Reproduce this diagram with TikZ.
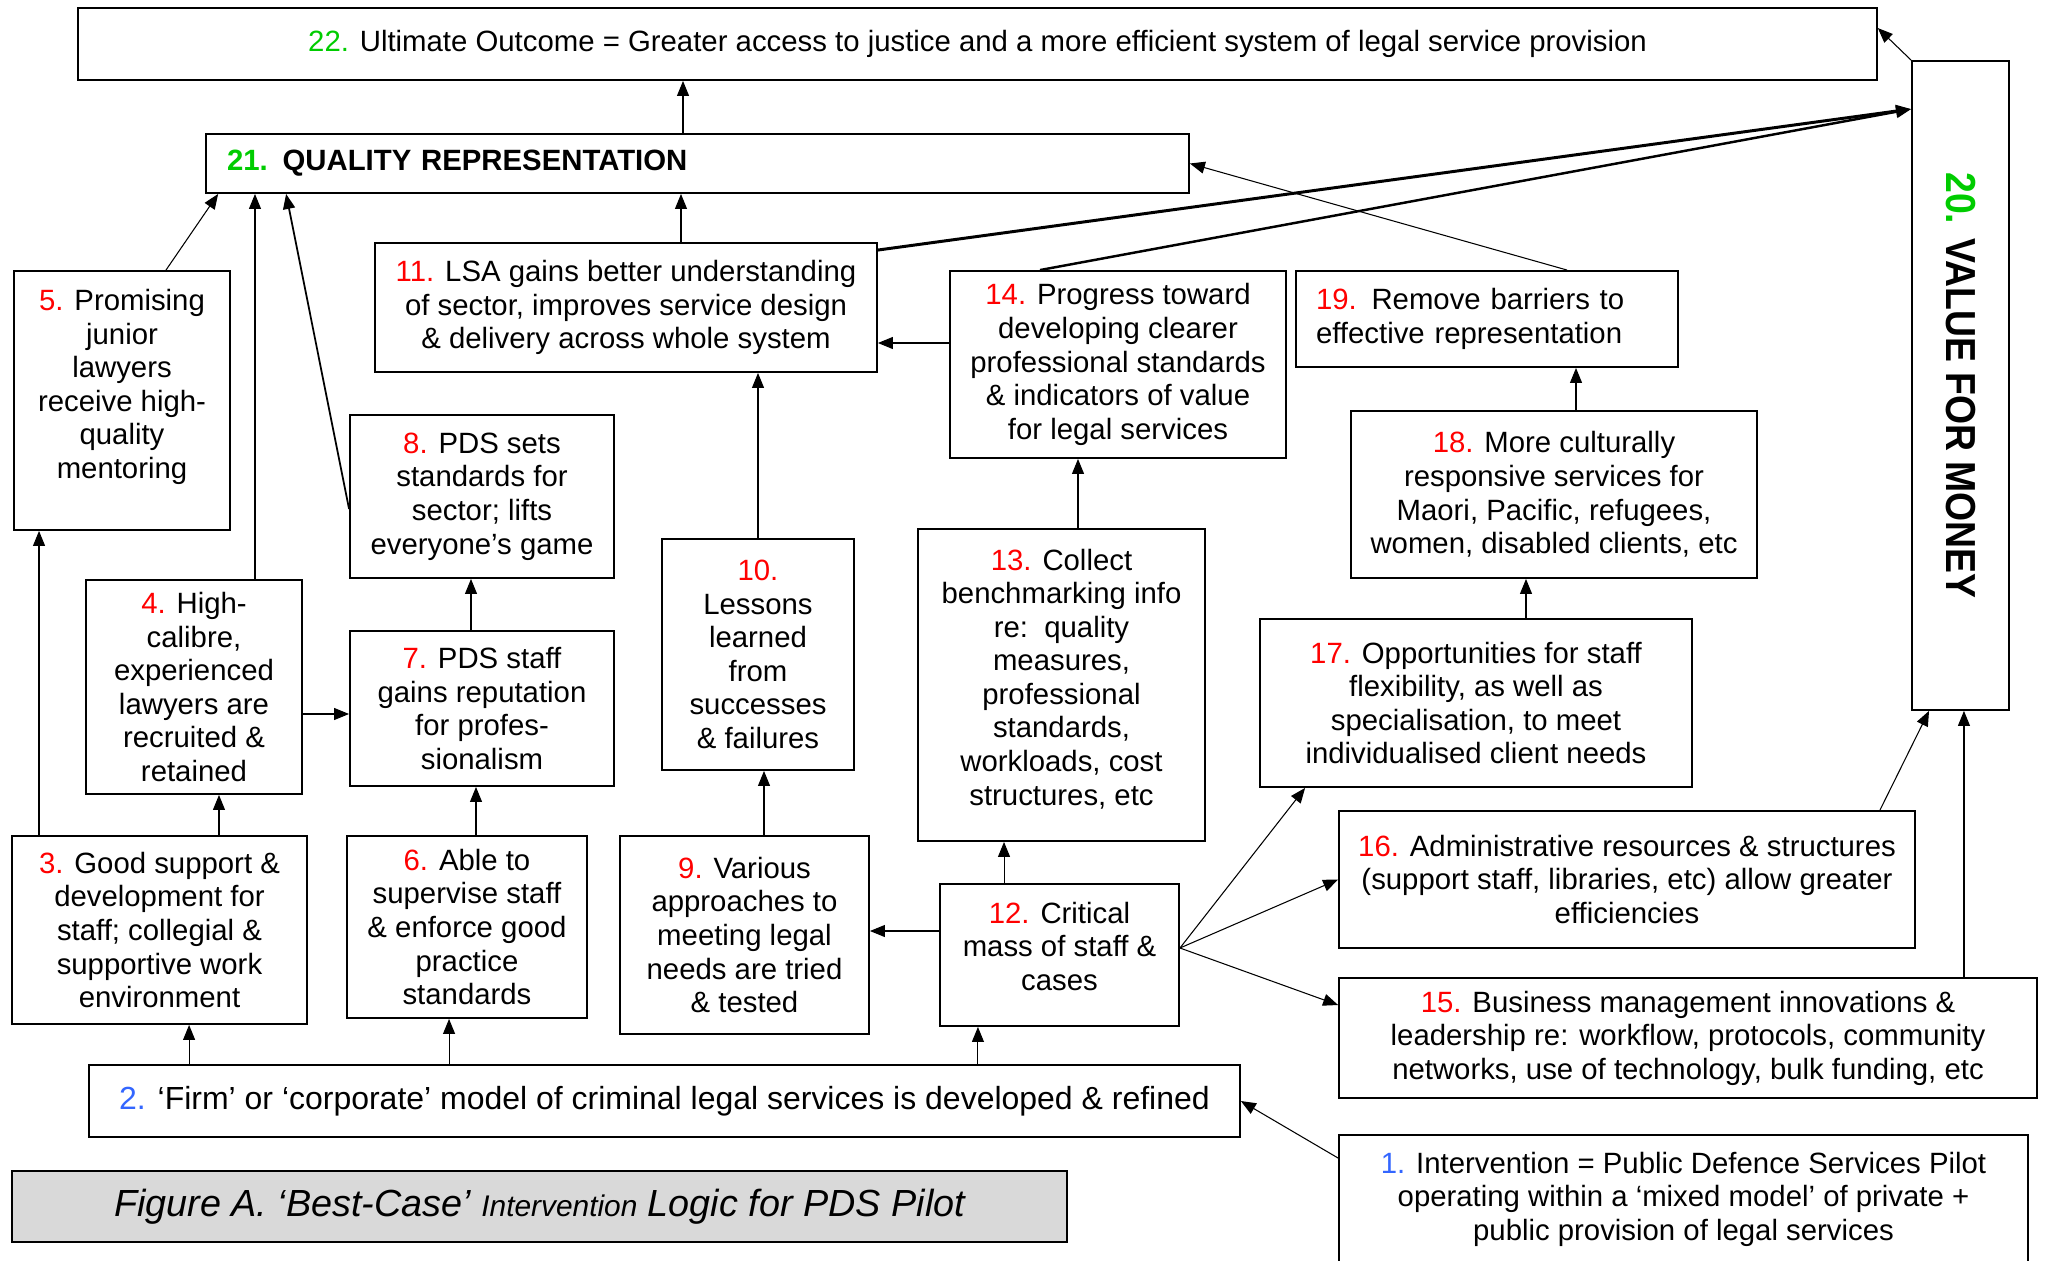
\documentclass[tikz,border=0pt]{standalone}
\usepackage{fontspec}
\setmainfont{Liberation Sans}
\usepackage{tikz}
\usetikzlibrary{arrows.meta}
\definecolor{numgreen}{rgb}{0,0.8,0}
\definecolor{numblue}{rgb}{0.2,0.4,1}

\begin{document}
\begin{tikzpicture}[x=0.02cm,y=-0.02cm,font=\fontsize{16.7}{19.1}\selectfont,
  box/.style={draw,line width=1.1pt,align=center,inner sep=0pt},
  arr/.style={-{Triangle[length=0.3cm,width=0.24cm]},line width=0.6pt}]
\useasboundingbox (0,0) rectangle (2047,1260);
\node[box,minimum width=35.98cm,minimum height=1.44cm] (b22) at (977.5,44) {\textcolor{numgreen}{22.} Ultimate Outcome = Greater access to justice and a more efficient system of legal service provision};
\node[box,minimum width=19.66cm,minimum height=1.18cm,text width=18.82cm,align=left] (b21) at (697.5,163.5) {\textbf{\textcolor{numgreen}{21.} QUALITY REPRESENTATION}};
\node[box,minimum width=1.94cm,minimum height=12.98cm] (b20) at (1960.5,385.5) {\rotatebox{-90}{\scalebox{0.89}[1]{\fontsize{23.9}{28}\selectfont\bfseries\textcolor{numgreen}{20.} VALUE FOR MONEY}}};
\node[box,minimum width=4.32cm,minimum height=5.18cm] (b5) at (122,400.5) {\textcolor{red}{5.} Promising\\junior\\lawyers\\receive high-\\quality\\mentoring\\\mbox{}};
\node[box,minimum width=10.04cm,minimum height=2.58cm] (b11) at (626,307.5) {\textcolor{red}{11.} LSA gains better understanding\\of sector, improves service design\\\& delivery across whole system};
\node[box,minimum width=6.72cm,minimum height=3.74cm] (b14) at (1118,364.5) {\textcolor{red}{14.} Progress toward\\developing clearer\\professional standards\\\& indicators of value\\for legal services};
\node[box,minimum width=7.64cm,minimum height=1.92cm,text width=6.84cm,align=left] (b19) at (1487,319) {\textcolor{red}{19.} Remove barriers to\\effective representation};
\node[box,minimum width=5.28cm,minimum height=3.26cm] (b8) at (482,496.5) {\textcolor{red}{8.} PDS sets\\standards for\\sector; lifts\\everyone’s game};
\node[box,minimum width=8.12cm,minimum height=3.34cm] (b18) at (1554,494.5) {\textcolor{red}{18.} More culturally\\responsive services for\\Maori, Pacific, refugees,\\women, disabled clients, etc};
\node[box,minimum width=4.32cm,minimum height=4.28cm] (b4) at (194,687) {\textcolor{red}{4.} High-\\calibre,\\experienced\\lawyers are\\recruited \&\\retained};
\node[box,minimum width=5.28cm,minimum height=3.10cm] (b7) at (482,708.5) {\textcolor{red}{7.} PDS staff\\gains reputation\\for profes-\\sionalism};
\node[box,minimum width=3.84cm,minimum height=4.62cm] (b10) at (758,654.5) {\textcolor{red}{10.}\\Lessons\\learned\\from\\successes\\\& failures};
\node[box,minimum width=5.74cm,minimum height=6.24cm] (b13) at (1061.5,685) {\textcolor{red}{13.} Collect\\benchmarking info\\re:\ \ quality\\measures,\\professional\\standards,\\workloads, cost\\structures, etc\\[-10pt]\mbox{}};
\node[box,minimum width=8.64cm,minimum height=3.36cm] (b17) at (1476,703) {\textcolor{red}{17.} Opportunities for staff\\flexibility, as well as\\specialisation, to meet\\individualised client needs};
\node[box,minimum width=5.90cm,minimum height=3.76cm] (b3) at (159.5,930) {\textcolor{red}{3.} Good support \&\\development for\\staff; collegial \&\\supportive work\\environment};
\node[box,minimum width=4.80cm,minimum height=3.64cm] (b6) at (467,927) {\textcolor{red}{6.} Able to\\supervise staff\\\& enforce good\\practice\\standards};
\node[box,minimum width=4.98cm,minimum height=3.96cm] (b9) at (744.5,935) {\textcolor{red}{9.} Various\\approaches to\\meeting legal\\needs are tried\\\& tested};
\node[box,minimum width=4.78cm,minimum height=2.84cm] (b12) at (1059.5,955) {\textcolor{red}{12.} Critical\\mass of staff \&\\cases\\[-9pt]\mbox{}};
\node[box,minimum width=11.52cm,minimum height=2.74cm] (b16) at (1627,879.5) {\textcolor{red}{16.} Administrative resources \& structures\\(support staff, libraries, etc) allow greater\\efficiencies};
\node[box,minimum width=13.96cm,minimum height=2.40cm] (b15) at (1688,1038) {\textcolor{red}{15.} Business management innovations \&\\leadership re: workflow, protocols, community\\networks, use of technology, bulk funding, etc};
\node[box,minimum width=23.02cm,minimum height=1.44cm,font=\fontsize{18.2}{21}\selectfont] (b2) at (664.5,1101) {\textcolor{numblue}{2.} ‘Firm’ or ‘corporate’ model of criminal legal services is developed \& refined};
\node[box,minimum width=13.78cm,minimum height=2.56cm] (b1) at (1683.5,1199) {\textcolor{numblue}{1.} Intervention = Public Defence Services Pilot\\operating within a ‘mixed model’ of private +\\public provision of legal services};
\node[draw,line width=1pt,fill=black!15,minimum width=21.1cm,minimum height=1.42cm] (cap) at (539.5,1206.5) {\itshape\fontsize{21.5}{24}\selectfont Figure A. ‘Best-Case’ {\fontsize{17}{20}\selectfont Intervention} Logic for PDS Pilot};
\draw[arr] ([xshift=-0.29cm]b21.north) -- ([xshift=-0.29cm]b21.north |- b22.south);
\draw[arr] ([xshift=1.1cm]b11.north) -- ([xshift=1.1cm]b11.north |- b21.south);
\draw[arr] ([xshift=0.88cm]b5.north) -- ([xshift=0.26cm]b21.south west);
\draw[arr] ([xshift=1.22cm]b4.north) -- ([xshift=1.22cm]b4.north |- b21.south);
\draw[arr,line width=1pt] ([yshift=-0.25cm]b8.west) -- ([xshift=1.62cm]b21.south west);
\draw[arr] ([xshift=-2.41cm]b3.north) -- ([xshift=-2.41cm]b3.north |- b5.south);
\draw[arr] ([xshift=1.19cm]b3.north) -- ([xshift=1.19cm]b3.north |- b4.south);
\draw[arr] ([yshift=-0.54cm]b4.east) -- ([yshift=-0.54cm]b4.east -| b7.west);
\draw[arr] ([xshift=-0.22cm]b7.north) -- ([xshift=-0.22cm]b7.north |- b8.south);
\draw[arr] ([xshift=0.18cm]b6.north) -- ([xshift=0.18cm]b6.north |- b7.south);
\draw[arr] ([xshift=0.39cm]b9.north) -- ([xshift=0.39cm]b9.north |- b10.south);
\draw[arr] (b10.north) -- (b10.north |- b11.south);
\draw[arr] ([yshift=0.43cm]b14.west) -- ([yshift=0.43cm]b14.west -| b11.east);
\draw[arr] ([xshift=0.33cm]b13.north) -- ([xshift=0.33cm]b13.north |- b14.south);
\draw[arr] ([xshift=-1.11cm]b12.north) -- ([xshift=-1.11cm]b12.north |- b13.south);
\draw[arr] ([yshift=0.48cm]b12.west) -- ([yshift=0.48cm]b12.west -| b9.east);
\coordinate (c12) at ([yshift=0.14cm]b12.east);
\draw[arr] (c12) -- ([xshift=0.92cm]b17.south west);
\draw[arr] (c12) -- (b16.west);
\draw[arr] (c12) -- ([yshift=0.66cm]b15.west);
\draw[arr] ([xshift=-9.51cm]b2.north) -- ([xshift=-9.51cm]b2.north |- b3.south);
\draw[arr] ([xshift=-4.31cm]b2.north) -- ([xshift=-4.31cm]b2.north |- b6.south);
\draw[arr] ([xshift=6.27cm]b2.north) -- ([xshift=6.27cm]b2.north |- b12.south);
\draw[arr] ([yshift=-0.48cm]b1.north west) -- (b2.east);
\draw[arr] ([xshift=1cm]b17.north) -- ([xshift=1cm]b17.north |- b18.south);
\draw[arr] ([xshift=0.44cm]b18.north) -- ([xshift=0.44cm]b18.north |- b19.south);
\draw[arr] ([xshift=1.6cm]b19.north) -- (b21.east);
\draw[arr,line width=1.7pt] ([yshift=-0.16cm]b11.north east) -- ([yshift=5.53cm]b20.west);
\draw[arr,line width=1.4pt] ([xshift=-1.56cm]b14.north) -- ([yshift=5.53cm]b20.west);
\draw[arr] (b20.north west) -- ([yshift=-0.42cm]b22.north east);
\draw[arr] ([xshift=5.06cm]b16.north) -- ([xshift=-0.63cm]b20.south);
\draw[arr] ([xshift=5.52cm]b15.north) -- ([xshift=5.52cm]b15.north |- b20.south);
\end{tikzpicture}
\end{document}
